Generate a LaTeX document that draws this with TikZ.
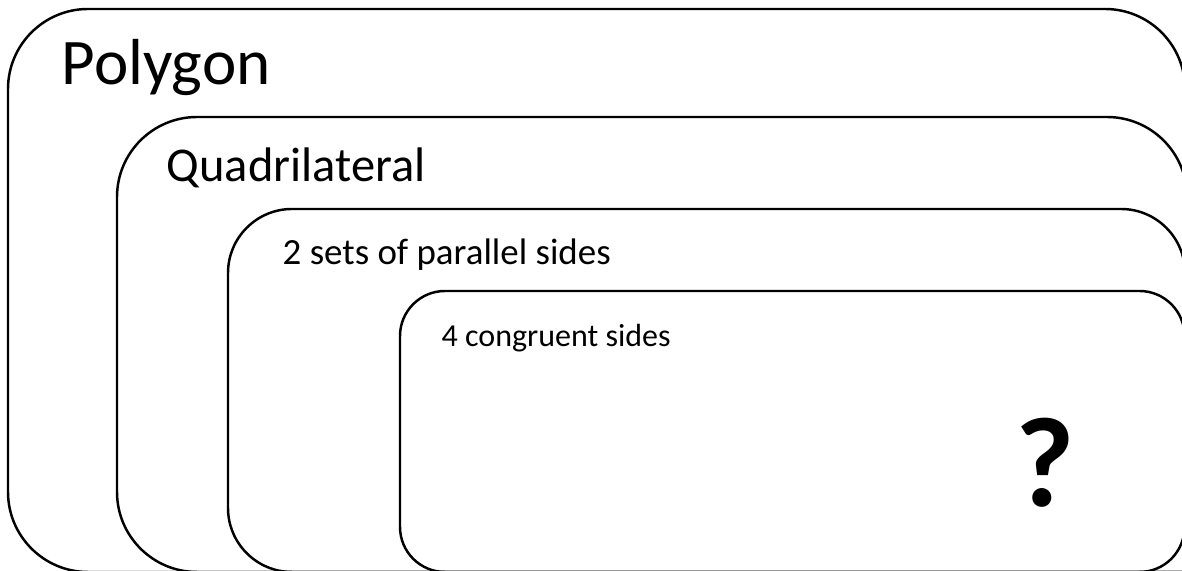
\documentclass[tikz,border=0pt]{standalone}
\usepackage{fontspec}
\setmainfont{Carlito}

\begin{document}
\begin{tikzpicture}[x=0.01cm,y=-0.01cm]
	\tikzset{setbox/.style={draw=black, line width=0.7pt},
		setlabel/.style={anchor=base west, inner sep=0pt}}
	\useasboundingbox (0,0) rectangle (1182,571);
	\clip (0,0) rectangle (1182,571);
	
	% polygon (right and bottom run off the page)
	\draw[setbox, rounded corners=0.8cm] (1185,700) -- (1185,9) -- (8,9) -- (8,572) -- (1300,572);
	\node[setlabel, font=\fontsize{18.5}{22}\selectfont] (polygon) at (61,85) {Polygon};
	
	% quadrilateral
	\draw[setbox, rounded corners=0.8cm] (1187,700) -- (1187,117) -- (117,117) -- (117,572) -- (1300,572);
	\node[setlabel, font=\fontsize{13.8}{16}\selectfont] (quad) at (166,182) {Quadrilateral};
	
	% parallelogram
	\draw[setbox, rounded corners=0.64cm] (1185,700) -- (1185,209) -- (228,209) -- (228,572) -- (1300,572);
	\node[setlabel, font=\fontsize{10.5}{12}\selectfont] (para) at (282,265) {2 sets of parallel sides};
	
	% rhombus
	\draw[setbox, rounded corners=0.45cm] (400,291) rectangle (1184.5,572);
	\node[setlabel, font=\fontsize{9.1}{11}\selectfont] (rhombus) at (441,347) {4 congruent sides};
	
	% question mark
	\node[anchor=base, inner sep=0pt, font=\fontsize{36.4}{40}\selectfont\bfseries] (qmark) at (1045,507) {?};
\end{tikzpicture}
\end{document}
